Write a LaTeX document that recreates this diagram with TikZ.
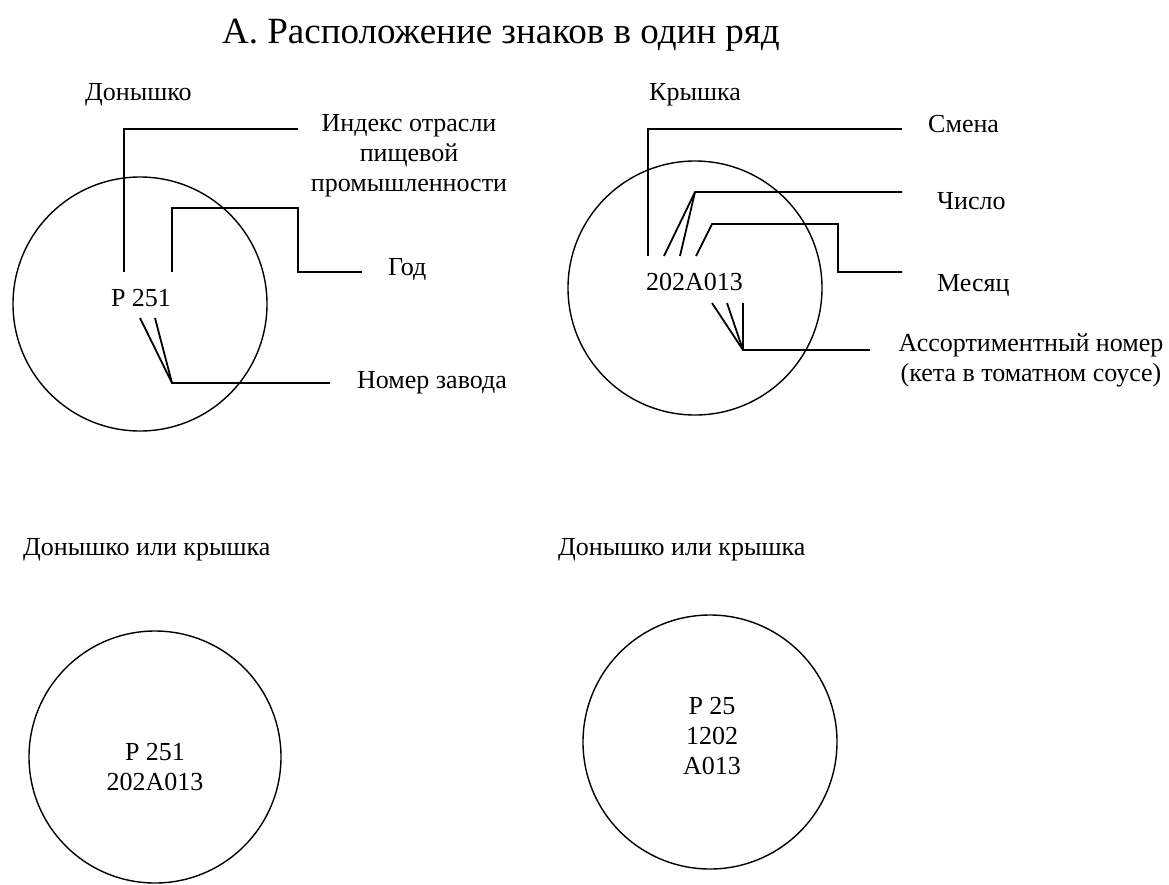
\documentclass[tikz,border=0pt]{standalone}
\usepackage{fontspec}
\setmainfont{Liberation Serif}
\usetikzlibrary{positioning}
\tikzset{
  every node/.style={font=\fontsize{26}{30}\selectfont,inner sep=0pt},
  disc/.style={draw,circle,line width=1.4pt,minimum size=#1},
  lead/.style={line width=1.8pt},
  caption/.style={anchor=base west},
  tag/.style={anchor=base west},
  tagblock/.style={anchor=north,align=center},
  codetext/.style={align=center},
  heading/.style={anchor=base west,font=\fontsize{37}{44}\selectfont},
}

\begin{document}
\begin{tikzpicture}[x=1pt,y=-1pt]
\useasboundingbox (0,0) rectangle (1169,884);

% title
\node[heading] (title) at (222,43) {А. Расположение знаков в один ряд};

% bottom end
\node[caption] (bottomlbl) at (85,100) {Донышко};
\node[disc=254pt] (bottomdisc) at (140,304) {};
\node (bottomcode) at (141,298.5) {Р 251};

\coordinate (idxfoot) at (124,272);
\coordinate (idxend) at (298,129);
\coordinate (yearfoot) at (172,272);
\coordinate (yearend) at (362,272);
\coordinate (plantA) at (140,318);
\coordinate (plantB) at (155,318);
\coordinate (plantjoin) at (172,383);
\coordinate (plantend) at (330,383);

\draw[lead] (idxfoot) |- (idxend);
\draw[lead] (yearfoot) -- ++(0,-64) -| ++(126,64) -- (yearend);
\draw[lead] (plantA) -- (plantjoin) -- (plantend);
\draw[lead] (plantB) -- (plantjoin);

\node[tagblock] (idx) at (409,114) {Индекс отрасли\\пищевой\\промышленности};
\node[tag] (year) at (388,275) {Год};
\node[tag] (plant) at (357,388) {Номер завода};

% lid
\node[caption] (toplbl) at (649,100) {Крышка};
\node[disc=254pt] (topdisc) at (695,288) {};
\node (topcode) at (694.5,281.5) {202A013};

\coordinate (shiftfoot) at (648,256);
\coordinate (shiftend) at (902,129);
\coordinate (dayA) at (664,256);
\coordinate (dayB) at (680,256);
\coordinate (dayjoin) at (695,192);
\coordinate (dayend) at (902,192);
\coordinate (monthfoot) at (696,256);
\coordinate (monthend) at (902,272);
\coordinate (sortA) at (712,303);
\coordinate (sortB) at (727,303);
\coordinate (sortC) at (743,303);
\coordinate (sortjoin) at (743,350);
\coordinate (sortend) at (870,350);

\draw[lead] (shiftfoot) |- (shiftend);
\draw[lead] (dayA) -- (dayjoin) -- (dayend);
\draw[lead] (dayB) -- (dayjoin);
\draw[lead] (monthfoot) -- ++(16,-32) -- ++(126,0) |- (monthend);
\draw[lead] (sortA) -- (sortjoin) -- (sortend);
\draw[lead] (sortB) -- (sortjoin);
\draw[lead] (sortC) -- (sortjoin);

\node[tag] (shift) at (928,132) {Смена};
\node[tag] (day) at (937,209) {Число};
\node[tag] (month) at (937,291) {Месяц};
\node[tagblock] (sort) at (1031,333) {Ассортиментный номер\\(кета в томатном соусе)};

% either end, one line
\node[caption] (leftlbl) at (23,555) {Донышко или крышка};
\node[disc=252pt] (leftdisc) at (155,757) {};
\node[codetext] (leftcode) at (155,767.5) {Р 251\\202A013};

% either end, split
\node[caption] (rightlbl) at (558,555) {Донышко или крышка};
\node[disc=254pt] (rightdisc) at (710,742) {};
\node[codetext] (rightcode) at (712,736) {Р 25\\1202\\A013};

\end{tikzpicture}
\end{document}
